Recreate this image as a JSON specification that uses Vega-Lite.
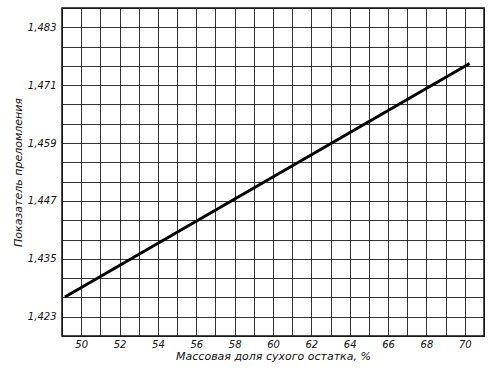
{
  "$schema": "https://vega.github.io/schema/vega-lite/v6.json",
  "width": 422,
  "height": 328,
  "autosize": {"type": "none"},
  "padding": {"left": 62, "top": 8, "right": 10, "bottom": 32},
  "background": "white",
  "config": {
    "view": {"stroke": "#111", "strokeWidth": 1.5},
    "axis": {
      "labelFont": "DejaVu Sans",
      "titleFont": "DejaVu Sans",
      "labelFontStyle": "italic",
      "titleFontStyle": "italic",
      "labelColor": "#111",
      "titleColor": "#111",
      "titleFontWeight": "normal",
      "domain": false,
      "ticks": false,
      "grid": true,
      "gridColor": "#111",
      "gridWidth": 1,
      "gridOpacity": 0.85
    }
  },
  "data": {
    "values": [
      {"x": 49.15, "y": 1.4271},
      {"x": 70.25, "y": 1.4755}
    ]
  },
  "mark": {"type": "line", "color": "#000", "strokeWidth": 3},
  "encoding": {
    "x": {
      "field": "x",
      "type": "quantitative",
      "scale": {"domain": [49, 71], "nice": false, "zero": false},
      "axis": {
        "title": "Массовая доля сухого остатка, %",
        "values": [49,50,51,52,53,54,55,56,57,58,59,60,61,62,63,64,65,66,67,68,69,70,71],
        "labelExpr": "(datum.value % 2 == 0 && datum.value >= 50 && datum.value <= 70) ? datum.label : ''",
        "labelFontSize": 10,
        "labelPadding": 3,
        "labelDx": -2,
        "titleFontSize": 11,
        "titlePadding": 1
      }
    },
    "y": {
      "field": "y",
      "type": "quantitative",
      "scale": {"domain": [1.419, 1.487], "nice": false, "zero": false},
      "axis": {
        "title": "Показатель преломления",
        "values": [1.419,1.423,1.427,1.431,1.435,1.439,1.443,1.447,1.451,1.455,1.459,1.463,1.467,1.471,1.475,1.479,1.483,1.487],
        "labelExpr": "indexof(['1.423','1.435','1.447','1.459','1.471','1.483'], format(datum.value, '.3f')) >= 0 ? replace(format(datum.value, '.3f'), '.', ',') : ''",
        "labelFontSize": 10,
        "labelPadding": 6,
        "titleFontSize": 11,
        "titlePadding": 4
      }
    }
  }
}
